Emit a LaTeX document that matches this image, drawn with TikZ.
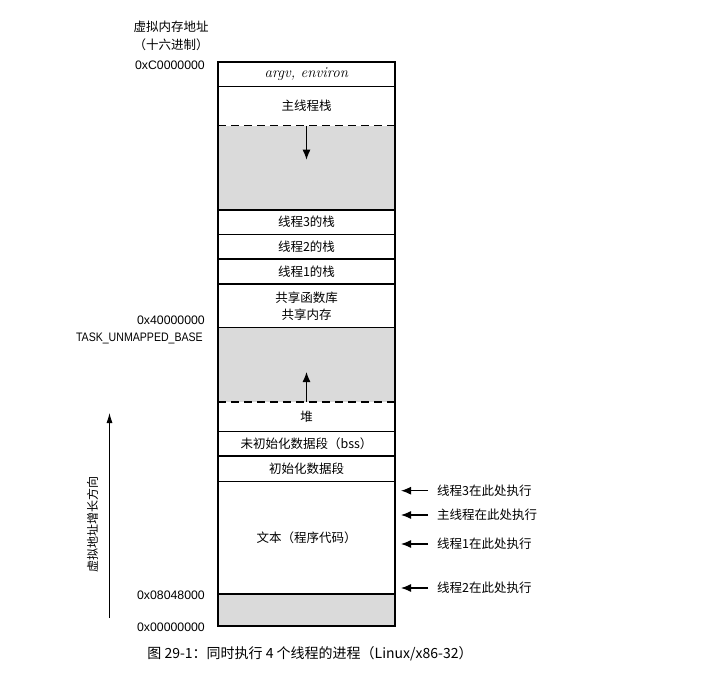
\documentclass[tikz,border=0pt]{standalone}
\usepackage{fontspec}
\usepackage{graphicx}
\newfontfamily\cjk{Noto Sans CJK SC}
\newfontfamily\hexfont{Liberation Sans}
\usetikzlibrary{arrows.meta,positioning}
\definecolor{gapgray}{HTML}{DADADA}

\begin{document}
\begin{tikzpicture}[x=1pt,y=-1pt,
    seg/.style={minimum width=177pt,inner sep=0pt,outer sep=0pt,align=center,
      font=\cjk\fontsize{12.5}{17}\selectfont},
    gap/.style={seg,fill=gapgray},
    addr/.style={anchor=east,inner sep=0pt,font=\hexfont\fontsize{12.3}{14}\selectfont},
    who/.style={anchor=west,inner sep=0pt,font=\cjk\fontsize{12.5}{14}\selectfont},
    tip/.style={-{Latex[length=10pt,width=8pt]},line width=1.2pt}]
  \useasboundingbox (0,0) rectangle (723,674);

  % memory segments, top down
  \node[seg,minimum height=24.7pt,font=\fontsize{15}{17}\selectfont] (argv) at (306.5,74.35) {\textit{argv, environ}};
  \node[seg,minimum height=39pt,below=0pt of argv] (mstack) {主线程栈};
  \node[gap,minimum height=84.3pt,below=0pt of mstack] (gaptop) {};
  \node[seg,minimum height=24.3pt,below=0pt of gaptop] (t3stack) {线程3的栈};
  \node[seg,minimum height=24.7pt,below=0pt of t3stack] (t2stack) {线程2的栈};
  \node[seg,minimum height=25pt,below=0pt of t2stack] (t1stack) {线程1的栈};
  \node[seg,minimum height=43.7pt,below=0pt of t1stack] (shlib) {共享函数库\\共享内存};
  \node[gap,minimum height=74.3pt,below=0pt of shlib] (gapmid) {};
  \node[seg,minimum height=29.7pt,below=0pt of gapmid] (heap) {堆};
  \node[seg,minimum height=24.3pt,below=0pt of heap] (bss) {未初始化数据段（bss）};
  \node[seg,minimum height=25.7pt,below=0pt of bss] (data) {初始化数据段};
  \node[seg,minimum height=112.3pt,below=0pt of data] (text) {文本（程序代码）};
  \node[gap,minimum height=32pt,below=0pt of text] (gaplow) {};

  % borders
  \foreach \s in {argv,gaptop,t3stack,t2stack,t1stack,shlib,heap,bss,data,text}
    \draw[line width=1.2pt] (\s.south west) -- (\s.south east);
  \foreach \s in {mstack,gapmid}
    \draw[line width=1.5pt,dash pattern=on 8pt off 5pt] (\s.south west) -- (\s.south east);
  \draw[line width=1.2pt] (argv.north west) rectangle (gaplow.south east);

  \draw[tip] (mstack.south) -- ++(0,34);
  \draw[tip] (heap.north) -- ++(0,-30);

  % addresses
  \node[align=center,font=\cjk\fontsize{12.5}{18.3}\selectfont] (vmhead) at (171,36) {虚拟内存地址\\（十六进制）};
  \node[addr] (hexC) at (205,65) {0xC0000000};
  \node[addr] (hex4) at (205,320) {0x40000000};
  \node[addr] (taskbase) at (203,338) {\scalebox{0.86}[1]{TASK\_UNMAPPED\_BASE}};
  \node[addr] (hex08) at (205,595) {0x08048000};
  \node[addr] (hex0) at (205,627) {0x00000000};

  \coordinate (growlow) at (109.5,618);
  \coordinate (growtop) at (109.5,413);
  \draw[-{Latex[length=10pt,width=6pt]},line width=0.8pt] (growlow) -- (growtop);
  \node[rotate=90,font=\cjk\fontsize{12}{14}\selectfont] (growlbl) at (92.5,524) {虚拟地址增长方向};

  % where each thread runs
  \foreach \n/\y/\t in {p3/490.7/线程3在此处执行,pm/515/主线程在此处执行,p1/544/线程1在此处执行,p2/588/线程2在此处执行}{
    \node[who] (\n) at (437,\y) {\t};
    \draw[tip] ([xshift=-9pt]\n.west) -- ++(-27,0);
  }

  \node[font=\cjk\fontsize{14}{16}\selectfont] (caption) at (310,654) {图 29-1：同时执行 4 个线程的进程（Linux/x86-32）};
\end{tikzpicture}
\end{document}
